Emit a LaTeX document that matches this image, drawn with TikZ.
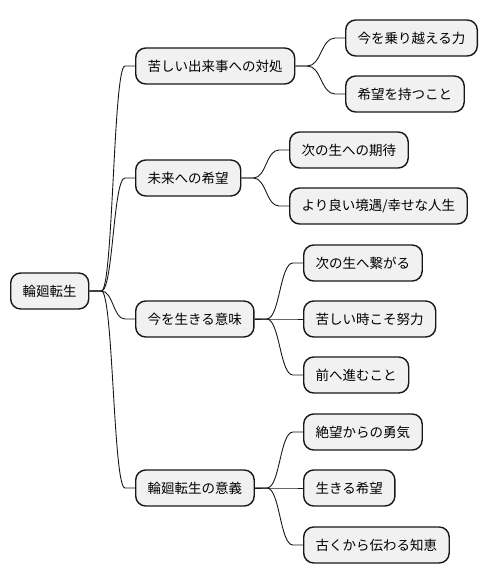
\documentclass[tikz,border=0pt]{standalone}
\usepackage{fontspec}
\setmainfont{Noto Sans CJK JP}
\usepackage{tikz}
\usetikzlibrary{calc}
\definecolor{boxfill}{HTML}{F1F1F1}
\definecolor{boxline}{HTML}{181818}
\tikzset{
  topic/.style={draw=boxline, line width=1.4pt, fill=boxfill, rounded corners=10pt,
    anchor=west, minimum height=36pt, inner xsep=12pt, inner ysep=2pt,
    font=\fontsize{13.5pt}{16pt}\selectfont},
  link/.style={draw=boxline, line width=0.9pt}
}
\newcommand{\mmlink}[2]{%
  \draw[link] let \p1=(#1.east), \p2=(#2.west) in
    (\p1) -- ++(12pt,0)
    .. controls ({(\x1+\x2)/2+1pt},\y1) and ({(\x1+\x2)/2+1pt},\y2) ..
    ({\x2-10pt},\y2) -- (\p2);}

\begin{document}
\begin{tikzpicture}[x=1pt, y=-1pt]
		\useasboundingbox (0,0) rectangle (488,583);
		% root
		\node[topic] (root) at (10,291) {輪廻転生};
		% first level
		\node[topic] (cope) at (135,66) {苦しい出来事への対処};
		\node[topic] (hope) at (135,178) {未来への希望};
		\node[topic] (now) at (135,319) {今を生きる意味};
		\node[topic] (mean) at (135,488) {輪廻転生の意義};
		% second level
		\node[topic] (cope1) at (345,38) {今を乗り越える力};
		\node[topic] (cope2) at (345,94) {希望を持つこと};
		\node[topic] (hope1) at (289,150) {次の生への期待};
		\node[topic] (hope2) at (289,206) {より良い境遇/幸せな人生};
		\node[topic] (now1) at (303,263) {次の生へ繋がる};
		\node[topic] (now2) at (303,319) {苦しい時こそ努力};
		\node[topic] (now3) at (303,375) {前へ進むこと};
		\node[topic] (mean1) at (303,432) {絶望からの勇気};
		\node[topic] (mean2) at (303,488) {生きる希望};
		\node[topic] (mean3) at (303,545) {古くから伝わる知恵};
		% branches
		\mmlink{root}{cope}
		\mmlink{root}{hope}
		\mmlink{root}{now}
		\mmlink{root}{mean}
		\mmlink{cope}{cope1}
		\mmlink{cope}{cope2}
		\mmlink{hope}{hope1}
		\mmlink{hope}{hope2}
		\mmlink{now}{now1}
		\mmlink{now}{now2}
		\mmlink{now}{now3}
		\mmlink{mean}{mean1}
		\mmlink{mean}{mean2}
		\mmlink{mean}{mean3}
	\end{tikzpicture}
\end{document}
